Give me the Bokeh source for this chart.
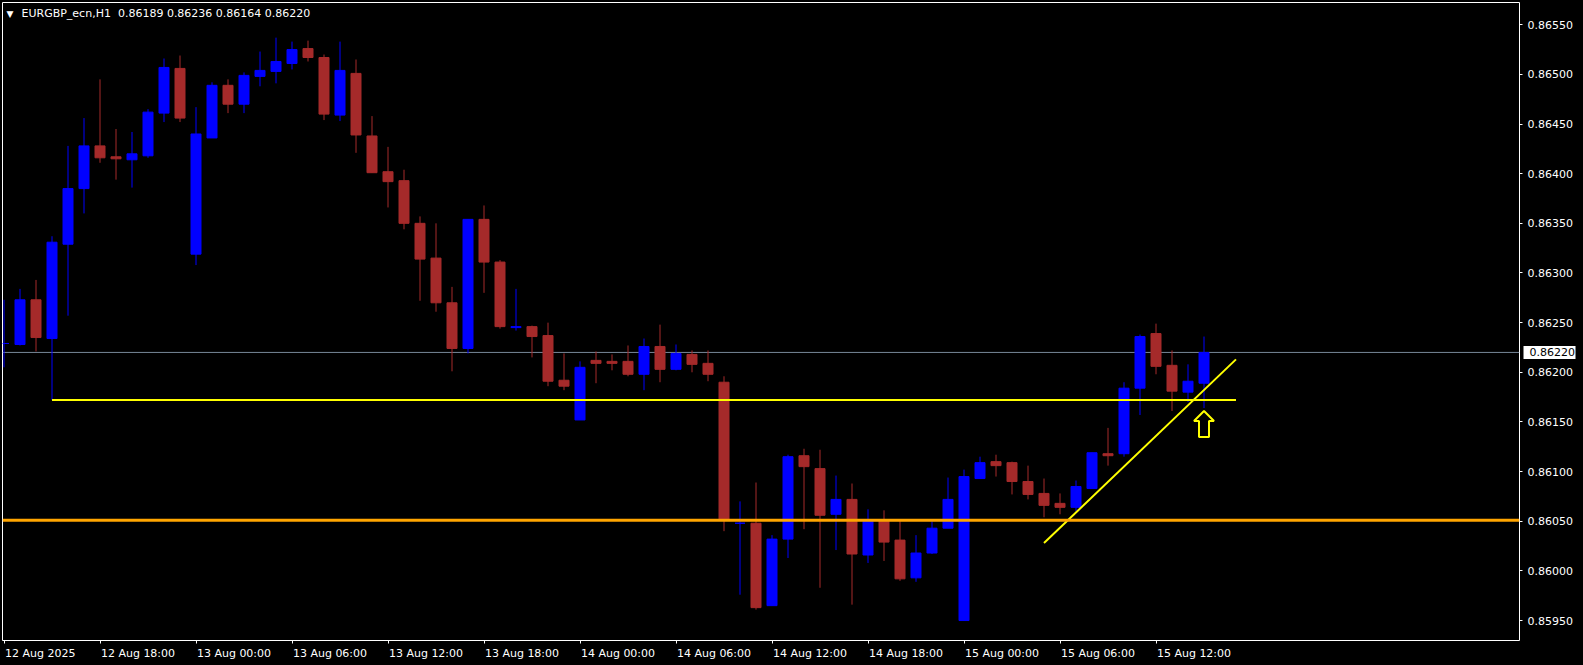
from bokeh.plotting import figure
from bokeh.models import Range1d, FixedTicker, PrintfTickFormatter, LinearAxis, Span, ColumnDataSource
from bokeh.core.properties import value
from bokeh.embed import file_html
from bokeh.resources import INLINE

symbol = "EURGBP_ecn,H1"

tick_bars = [0, 6, 12, 18, 24, 30, 36, 42, 48, 54, 60, 66, 72]
tick_labels = ["12 Aug 2025", "12 Aug 18:00", "13 Aug 00:00", "13 Aug 06:00", "13 Aug 12:00",
               "13 Aug 18:00", "14 Aug 00:00", "14 Aug 06:00", "14 Aug 12:00", "14 Aug 18:00",
               "15 Aug 00:00", "15 Aug 06:00", "15 Aug 12:00"]

opens = [0.86229, 0.86228, 0.86273, 0.86234, 0.86329, 0.86385, 0.86428, 0.86417, 0.86414, 0.86418,
         0.86461, 0.86506, 0.86319, 0.86436, 0.86489, 0.86470, 0.86498, 0.86503, 0.86511, 0.86526,
         0.86517, 0.86459, 0.86501, 0.86438, 0.86402, 0.86393, 0.86350, 0.86315, 0.86270, 0.86224,
         0.86354, 0.86311, 0.86245, 0.86246, 0.86237, 0.86192, 0.86152, 0.86212, 0.86211, 0.86211,
         0.86198, 0.86226, 0.86203, 0.86218, 0.86209, 0.86190, 0.86048, 0.86048, 0.85965, 0.86032,
         0.86116, 0.86103, 0.86057, 0.86072, 0.86016, 0.86051, 0.86031, 0.85993, 0.86018, 0.86043,
         0.85950, 0.86093, 0.86110, 0.86109, 0.86090, 0.86078, 0.86068, 0.86064, 0.86083, 0.86118,
         0.86118, 0.86184, 0.86239, 0.86207, 0.86180, 0.86189]
highs = [0.86273, 0.86284, 0.86293, 0.86337, 0.86428, 0.86456, 0.86495, 0.86445, 0.86442, 0.86465,
         0.86516, 0.86519, 0.86467, 0.86492, 0.86495, 0.86502, 0.86523, 0.86537, 0.86533, 0.86534,
         0.86520, 0.86533, 0.86515, 0.86458, 0.86427, 0.86404, 0.86357, 0.86350, 0.86286, 0.86354,
         0.86368, 0.86313, 0.86284, 0.86247, 0.86250, 0.86219, 0.86211, 0.86221, 0.86218, 0.86227,
         0.86234, 0.86248, 0.86228, 0.86222, 0.86222, 0.86196, 0.86070, 0.86089, 0.86036, 0.86117,
         0.86123, 0.86122, 0.86096, 0.86088, 0.86062, 0.86061, 0.86051, 0.86036, 0.86050, 0.86094,
         0.86102, 0.86115, 0.86117, 0.86110, 0.86106, 0.86093, 0.86078, 0.86091, 0.86119, 0.86144,
         0.86190, 0.86238, 0.86249, 0.86222, 0.86208, 0.86236]
lows = [0.86205, 0.86227, 0.86221, 0.86172, 0.86257, 0.86360, 0.86411, 0.86394, 0.86386, 0.86416,
        0.86452, 0.86452, 0.86308, 0.86436, 0.86461, 0.86461, 0.86488, 0.86491, 0.86505, 0.86513,
        0.86454, 0.86453, 0.86421, 0.86401, 0.86366, 0.86344, 0.86272, 0.86261, 0.86201, 0.86219,
        0.86280, 0.86244, 0.86242, 0.86215, 0.86186, 0.86182, 0.86152, 0.86189, 0.86202, 0.86196,
        0.86182, 0.86190, 0.86202, 0.86200, 0.86191, 0.86040, 0.85976, 0.85961, 0.85965, 0.86013,
        0.86042, 0.85983, 0.86021, 0.85966, 0.86008, 0.86010, 0.85990, 0.85989, 0.86017, 0.86043,
        0.85950, 0.86093, 0.86095, 0.86077, 0.86072, 0.86054, 0.86057, 0.86060, 0.86083, 0.86106,
        0.86115, 0.86157, 0.86198, 0.86161, 0.86170, 0.86164]
closes = [0.86229, 0.86273, 0.86235, 0.86331, 0.86385, 0.86428, 0.86416, 0.86415, 0.86420, 0.86462,
          0.86507, 0.86456, 0.86440, 0.86489, 0.86470, 0.86499, 0.86504, 0.86513, 0.86525, 0.86517,
          0.86460, 0.86504, 0.86439, 0.86401, 0.86392, 0.86350, 0.86314, 0.86270, 0.86224, 0.86354,
          0.86311, 0.86246, 0.86246, 0.86236, 0.86191, 0.86186, 0.86205, 0.86209, 0.86209, 0.86198,
          0.86226, 0.86203, 0.86219, 0.86208, 0.86198, 0.86052, 0.86048, 0.85963, 0.86032, 0.86115,
          0.86105, 0.86056, 0.86072, 0.86017, 0.86050, 0.86029, 0.85992, 0.86018, 0.86043, 0.86072,
          0.86095, 0.86109, 0.86106, 0.86090, 0.86077, 0.86066, 0.86064, 0.86085, 0.86119, 0.86116,
          0.86184, 0.86236, 0.86206, 0.86181, 0.86191, 0.86220]

price_ticks = [0.85950, 0.86000, 0.86050, 0.86100, 0.86150, 0.86200, 0.86250,
               0.86300, 0.86350, 0.86400, 0.86450, 0.86500, 0.86550]

level_price = 0.86172          # horizontal yellow line (low of bar 3)
level_bars = [3, 77]
support_price = 0.86051        # orange line
trend_bars = [65, 77]
trend_prices = [0.86028, 0.86213]
signal_bar = 75

BULL = "#0000FF"
BEAR = "#A52A2A"
FONT = "DejaVu Sans"
FONT_PX = 11

W, H = 1583, 665
LEFT, TOP = 2, 2
FRAME_W, FRAME_H = 1517, 638
BAR_PX = 16
x_start = -1.5 / BAR_PX
x_end = x_start + FRAME_W / BAR_PX
y_bottom, y_top = 0.859299, 0.865724

# approximate DejaVu Sans advance widths (em) used to left-align time labels at their ticks
EM = {" ": 0.318, ":": 0.337, "A": 0.684, "u": 0.634, "g": 0.635}
def text_px(s):
    return sum(EM.get(ch, 0.636) for ch in s) * FONT_PX

bars = list(range(len(opens)))
colors = [BULL if c >= o else BEAR for o, c in zip(opens, closes)]
src = ColumnDataSource(dict(
    bar=bars, open=opens, high=highs, low=lows, close=closes, color=colors,
    top=[max(o, c) for o, c in zip(opens, closes)],
    bottom=[min(o, c) for o, c in zip(opens, closes)],
))

p = figure(width=W, height=H, output_backend="svg", toolbar_location=None,
           x_range=Range1d(x_start, x_end), y_range=Range1d(y_bottom, y_top),
           y_axis_location="right",
           min_border_left=LEFT, min_border_top=TOP,
           min_border_right=W - FRAME_W - LEFT,
           min_border_bottom=H - FRAME_H - TOP,
           background_fill_color="black", border_fill_color="black",
           outline_line_color="white", outline_line_width=1)
p.grid.visible = False

# bid line behind candles
p.add_layout(Span(location=closes[-1], dimension="width", line_color="#778899",
                  line_width=1, level="underlay"))

p.segment(x0="bar", y0="low", x1="bar", y1="high", line_color="color", line_width=1, source=src)
p.vbar(x="bar", width=10 / BAR_PX, top="top", bottom="bottom", fill_color="color",
       line_color="color", line_width=1, source=src)

p.add_layout(Span(location=support_price, dimension="width", line_color="#FFA500", line_width=3))
p.segment(x0=[level_bars[0]], y0=[level_price], x1=[level_bars[1]], y1=[level_price],
          line_color="#FFFF00", line_width=2)
p.line(trend_bars, trend_prices, line_color="#FFFF00", line_width=2)

# hollow up arrow below the signal bar
px_x = (x_end - x_start) / FRAME_W
px_y = (y_top - y_bottom) / FRAME_H
tip = lows[signal_bar] - 3 * px_y
shape = [(0, 0), (10, 10), (5, 10), (5, 26), (-5, 26), (-5, 10), (-10, 10)]
p.patch([signal_bar + dx * px_x for dx, dy in shape], [tip - dy * px_y for dx, dy in shape],
        fill_alpha=0, line_color="#FFFF00", line_width=2)

header = "%s\u00a0 %.5f %.5f %.5f %.5f" % (symbol, opens[-1], highs[-1], lows[-1], closes[-1])
p.text(x=[x_start], y=[y_top], text=["\u25BC"], x_offset=4, y_offset=11,
       text_baseline="middle", text_align="left", text_color="white",
       text_font=value(FONT), text_font_size="9px")
p.text(x=[x_start], y=[y_top], text=[header], x_offset=19, y_offset=11,
       text_baseline="middle", text_align="left", text_color="white",
       text_font=value(FONT), text_font_size="%dpx" % FONT_PX)

# time axis: tick marks at the bars (minor ticks), labels centred so that they start at the tick
label_pos = [round((b + (text_px(t) / 2 + 1) / BAR_PX) * 64) / 64 for b, t in zip(tick_bars, tick_labels)]
xa = p.xaxis[0]
xa.ticker = FixedTicker(ticks=label_pos, minor_ticks=tick_bars)
xa.major_label_overrides = {pos: t for pos, t in zip(label_pos, tick_labels)}
xa.major_tick_line_color = None
xa.major_tick_out = 3
xa.major_tick_in = 0
xa.minor_tick_line_color = "white"
xa.minor_tick_out = 3
xa.minor_tick_in = 0
xa.major_label_standoff = 3

ya = p.yaxis[0]
ya.ticker = FixedTicker(ticks=price_ticks)
ya.formatter = PrintfTickFormatter(format="%.5f")
ya.major_tick_line_color = "white"
ya.major_tick_out = 3
ya.major_tick_in = 0
ya.minor_tick_line_color = None
ya.major_label_standoff = 5

for ax in (xa, ya):
    ax.axis_line_color = None
    ax.major_label_text_color = "white"
    ax.major_label_text_font = FONT
    ax.major_label_text_font_size = "%dpx" % FONT_PX

# current price tag: an outer price axis with one tick; its thick inward tick forms the white box
tag = LinearAxis(ticker=FixedTicker(ticks=[closes[-1]]),
                 formatter=PrintfTickFormatter(format="%.5f"),
                 axis_line_color=None, minor_tick_line_color=None,
                 major_tick_line_color="white", major_tick_line_width=13, major_tick_line_cap="butt",
                 major_tick_in=52, major_tick_out=0, major_label_standoff=-46,
                 major_label_text_color="black", major_label_text_font=FONT,
                 major_label_text_font_size="%dpx" % FONT_PX)
p.add_layout(tag, "right")

html = file_html(p, INLINE, title="EURGBP H1")
html = html.replace("<head>", "<head><style>html,body{background:#000000;}</style>", 1)
open("out.html", "w").write(html)
